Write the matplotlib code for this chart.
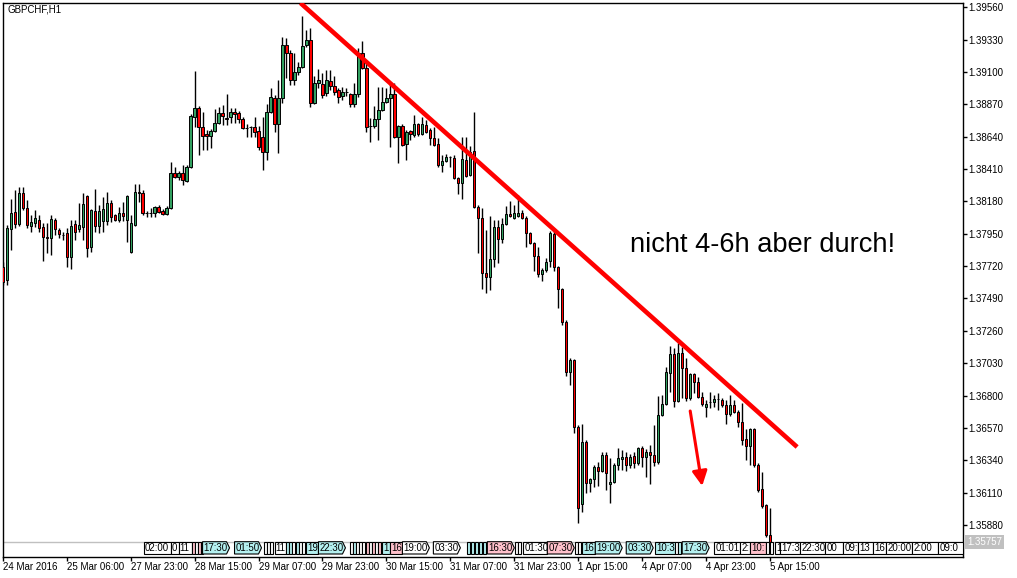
import numpy as np
import matplotlib
matplotlib.use('Agg')
import matplotlib.pyplot as plt
from matplotlib.patches import Polygon

plt.rcParams['font.family'] = ['Liberation Sans', 'DejaVu Sans']

# GBPCHF H1 candles, one per hour (first one is cut by the left edge)
OPEN = [1.37714, 1.37621, 1.37984, 1.38105, 1.38019, 1.38240, 1.38133, 1.38005, 1.38027, 1.38048,
        1.37998, 1.37927, 1.37920, 1.38048, 1.37977, 1.37941, 1.37955, 1.37785, 1.38019, 1.37984,
        1.37998, 1.38218, 1.37856, 1.38112, 1.38005, 1.38041, 1.38041, 1.38169, 1.38083, 1.38048,
        1.38098, 1.38048, 1.37820, 1.38012, 1.38247, 1.38240, 1.38098, 1.38098, 1.38098, 1.38140,
        1.38112, 1.38090, 1.38133, 1.38382, 1.38354, 1.38382, 1.38325, 1.38425, 1.38780, 1.38844,
        1.38709, 1.38659, 1.38645, 1.38681, 1.38737, 1.38809, 1.38773, 1.38780, 1.38816, 1.38809,
        1.38766, 1.38702, 1.38709, 1.38709, 1.38681, 1.38638, 1.38531, 1.38816, 1.38915, 1.38730,
        1.38915, 1.39292, 1.39235, 1.39043, 1.39100, 1.39136, 1.39292, 1.39328, 1.38880, 1.39022,
        1.39015, 1.38951, 1.39036, 1.39000, 1.38972, 1.38929, 1.38958, 1.38944, 1.38873, 1.38944,
        1.39235, 1.39129, 1.38716, 1.38716, 1.38766, 1.38830, 1.38887, 1.38915, 1.38944, 1.38638,
        1.38716, 1.38588, 1.38681, 1.38652, 1.38730, 1.38659, 1.38723, 1.38688, 1.38631, 1.38588,
        1.38439, 1.38467, 1.38496, 1.38489, 1.38346, 1.38311, 1.38474, 1.38368, 1.38538, 1.38140,
        1.38062, 1.37671, 1.37643, 1.37771, 1.37998, 1.37913, 1.38019, 1.38090, 1.38062, 1.38076,
        1.38098, 1.38062, 1.37955, 1.37884, 1.37792, 1.37664, 1.37692, 1.37756, 1.37948, 1.37714,
        1.37557, 1.37323, 1.36967, 1.37052, 1.36576, 1.36029, 1.36469, 1.36178, 1.36206, 1.36292,
        1.36263, 1.36377, 1.36171, 1.36185, 1.36306, 1.36349, 1.36363, 1.36306, 1.36370, 1.36320,
        1.36427, 1.36363, 1.36398, 1.36377, 1.36327, 1.36661, 1.36740, 1.36960, 1.37095, 1.36761,
        1.37102, 1.36995, 1.36782, 1.36953, 1.36896, 1.36789, 1.36718, 1.36754, 1.36754, 1.36775,
        1.36768, 1.36732, 1.36669, 1.36732, 1.36683, 1.36612, 1.36491, 1.36441, 1.36562, 1.36306,
        1.36135, 1.36021, 1.35808]
HIGH = [1.37749, 1.38012, 1.38197, 1.38261, 1.38282, 1.38282, 1.38190, 1.38083, 1.38119, 1.38083,
        1.38027, 1.38027, 1.38083, 1.38062, 1.37991, 1.37963, 1.37991, 1.38048, 1.38048, 1.38169,
        1.38240, 1.38226, 1.38126, 1.38268, 1.38154, 1.38211, 1.38247, 1.38190, 1.38090, 1.38140,
        1.38176, 1.38226, 1.38083, 1.38304, 1.38304, 1.38261, 1.38112, 1.38133, 1.38147, 1.38154,
        1.38126, 1.38147, 1.38460, 1.38425, 1.38396, 1.38439, 1.38439, 1.38801, 1.39107, 1.38858,
        1.38816, 1.38688, 1.38695, 1.38837, 1.38851, 1.38865, 1.38944, 1.38844, 1.38844, 1.38823,
        1.38780, 1.38730, 1.38716, 1.38780, 1.38716, 1.38780, 1.38873, 1.38986, 1.38937, 1.39043,
        1.39349, 1.39342, 1.39257, 1.39235, 1.39171, 1.39498, 1.39399, 1.39413, 1.39072, 1.39121,
        1.39093, 1.39114, 1.39114, 1.39072, 1.38986, 1.38993, 1.38986, 1.38951, 1.39022, 1.39271,
        1.39320, 1.39164, 1.38773, 1.38858, 1.38993, 1.38993, 1.38986, 1.39022, 1.39022, 1.38723,
        1.38730, 1.38688, 1.38688, 1.38794, 1.38737, 1.38780, 1.38759, 1.38702, 1.38709, 1.38631,
        1.38510, 1.38517, 1.38503, 1.38510, 1.38354, 1.38638, 1.38638, 1.38574, 1.38816, 1.38154,
        1.38133, 1.37977, 1.38076, 1.38048, 1.38048, 1.38062, 1.38147, 1.38183, 1.38154, 1.38226,
        1.38119, 1.38076, 1.37963, 1.37891, 1.37856, 1.37706, 1.37778, 1.37970, 1.37977, 1.37721,
        1.37564, 1.37337, 1.37067, 1.37059, 1.36590, 1.36597, 1.36484, 1.36213, 1.36306, 1.36327,
        1.36398, 1.36398, 1.36356, 1.36320, 1.36427, 1.36413, 1.36398, 1.36384, 1.36398, 1.36434,
        1.36441, 1.36420, 1.36448, 1.36590, 1.36796, 1.36804, 1.37003, 1.37152, 1.37138, 1.37173,
        1.37145, 1.37067, 1.36960, 1.36960, 1.36932, 1.36825, 1.36768, 1.36825, 1.36804, 1.36818,
        1.36782, 1.36768, 1.36804, 1.36768, 1.36697, 1.36747, 1.36562, 1.36569, 1.36569, 1.36320,
        1.36256, 1.36029, 1.36000]
LOW = [1.37586, 1.37586, 1.37835, 1.37991, 1.38005, 1.38119, 1.37991, 1.37963, 1.37998, 1.37963,
       1.37756, 1.37813, 1.37799, 1.37941, 1.37920, 1.37906, 1.37714, 1.37699, 1.37906, 1.37963,
       1.37906, 1.37785, 1.37820, 1.37963, 1.37955, 1.37963, 1.38012, 1.38034, 1.38041, 1.38034,
       1.38041, 1.37891, 1.37813, 1.38005, 1.38176, 1.38083, 1.38069, 1.38069, 1.38069, 1.38098,
       1.38083, 1.38083, 1.38126, 1.38346, 1.38332, 1.38297, 1.38318, 1.38417, 1.38709, 1.38510,
       1.38545, 1.38545, 1.38560, 1.38673, 1.38730, 1.38723, 1.38723, 1.38737, 1.38737, 1.38737,
       1.38695, 1.38638, 1.38638, 1.38638, 1.38545, 1.38403, 1.38474, 1.38809, 1.38673, 1.38524,
       1.38880, 1.39057, 1.39008, 1.39008, 1.39079, 1.39129, 1.39278, 1.38851, 1.38873, 1.38986,
       1.38915, 1.38929, 1.38972, 1.38937, 1.38880, 1.38901, 1.38929, 1.38851, 1.38851, 1.38922,
       1.39121, 1.38673, 1.38602, 1.38702, 1.38617, 1.38823, 1.38880, 1.38567, 1.38631, 1.38453,
       1.38574, 1.38474, 1.38617, 1.38638, 1.38645, 1.38652, 1.38666, 1.38581, 1.38574, 1.38425,
       1.38389, 1.38460, 1.38425, 1.38339, 1.38233, 1.38197, 1.38354, 1.38361, 1.38133, 1.37813,
       1.37557, 1.37529, 1.37550, 1.37714, 1.37742, 1.37884, 1.38012, 1.38069, 1.38055, 1.38069,
       1.38055, 1.37856, 1.37877, 1.37685, 1.37643, 1.37614, 1.37678, 1.37714, 1.37685, 1.37422,
       1.37301, 1.36939, 1.36875, 1.36533, 1.35894, 1.35972, 1.36107, 1.36114, 1.36149, 1.36157,
       1.36256, 1.36128, 1.36036, 1.36178, 1.36270, 1.36270, 1.36263, 1.36285, 1.36285, 1.36306,
       1.36292, 1.36221, 1.36171, 1.36299, 1.36313, 1.36654, 1.36732, 1.36825, 1.36718, 1.36754,
       1.36782, 1.36761, 1.36768, 1.36818, 1.36782, 1.36725, 1.36647, 1.36711, 1.36718, 1.36697,
       1.36718, 1.36597, 1.36654, 1.36676, 1.36576, 1.36448, 1.36341, 1.36306, 1.36292, 1.36114,
       1.36000, 1.35794, 1.35737]
CLOSE = [1.37607, 1.37991, 1.38098, 1.38019, 1.38240, 1.38133, 1.38012, 1.38034, 1.38062, 1.37991,
         1.37927, 1.37920, 1.38055, 1.37984, 1.37948, 1.37941, 1.37785, 1.38005, 1.37963, 1.38012,
         1.38162, 1.37849, 1.38119, 1.38005, 1.38112, 1.38126, 1.38169, 1.38069, 1.38048, 1.38098,
         1.38076, 1.38218, 1.38027, 1.38247, 1.38240, 1.38098, 1.38098, 1.38101, 1.38140, 1.38105,
         1.38090, 1.38133, 1.38382, 1.38354, 1.38382, 1.38332, 1.38425, 1.38787, 1.38844, 1.38709,
         1.38645, 1.38645, 1.38681, 1.38737, 1.38809, 1.38787, 1.38766, 1.38816, 1.38801, 1.38766,
         1.38702, 1.38699, 1.38712, 1.38673, 1.38567, 1.38531, 1.38816, 1.38922, 1.38730, 1.38915,
         1.39292, 1.39235, 1.39043, 1.39100, 1.39136, 1.39285, 1.39328, 1.38880, 1.39022, 1.39043,
         1.38937, 1.39043, 1.39000, 1.38958, 1.38922, 1.38958, 1.38961, 1.38873, 1.38944, 1.39235,
         1.39129, 1.38709, 1.38713, 1.38766, 1.38830, 1.38887, 1.38915, 1.38944, 1.38638, 1.38716,
         1.38581, 1.38673, 1.38659, 1.38730, 1.38659, 1.38730, 1.38673, 1.38631, 1.38581, 1.38439,
         1.38467, 1.38496, 1.38499, 1.38346, 1.38311, 1.38481, 1.38361, 1.38531, 1.38140, 1.38062,
         1.37671, 1.37643, 1.37771, 1.37998, 1.37913, 1.38019, 1.38090, 1.38076, 1.38098, 1.38098,
         1.38062, 1.37955, 1.37884, 1.37792, 1.37664, 1.37692, 1.37749, 1.37955, 1.37714, 1.37557,
         1.37323, 1.36967, 1.37052, 1.36576, 1.36000, 1.36469, 1.36178, 1.36206, 1.36292, 1.36263,
         1.36377, 1.36249, 1.36185, 1.36306, 1.36356, 1.36363, 1.36306, 1.36363, 1.36320, 1.36427,
         1.36363, 1.36398, 1.36377, 1.36327, 1.36661, 1.36740, 1.36967, 1.37095, 1.36761, 1.37102,
         1.36995, 1.36782, 1.36953, 1.36896, 1.36789, 1.36740, 1.36740, 1.36757, 1.36775, 1.36772,
         1.36732, 1.36669, 1.36732, 1.36683, 1.36612, 1.36484, 1.36441, 1.36562, 1.36306, 1.36128,
         1.36014, 1.35808, 1.35757]

TIME_LABELS = ['24 Mar 2016', '25 Mar 06:00', '27 Mar 23:00', '28 Mar 15:00', '29 Mar 07:00',
               '29 Mar 23:00', '30 Mar 15:00', '31 Mar 07:00', '31 Mar 23:00', '1 Apr 15:00',
               '4 Apr 07:00', '4 Apr 23:00', '5 Apr 15:00']
PRICE_TICKS = [1.39560, 1.39330, 1.39100, 1.38870, 1.38640, 1.38410, 1.38180, 1.37950, 1.37720,
               1.37490, 1.37260, 1.37030, 1.36800, 1.36570, 1.36340, 1.36110, 1.35880]

# hand-drawn objects (bar index, price)
TREND_LINE = [(74.5, 1.39591), (198.75, 1.36434)]
ARROW = [(172, 1.36690), (175, 1.36157)]
NOTE = 'nicht 4-6h aber durch!'

# calendar events strip: (bar index, visible label, fill)
EVENTS = [(35.25, '02:00', 'w'), (42, '0', 'w'), (44, '11', 'w'), (47.25, '', 'p'), (48, '', 'w'),
          (48.75, '', 'p'), (49.5, '', 'w'), (50, '17:30', 'c'), (58, '01:50', 'c'), (65.25, '', 'w'),
          (66, '', 'w'), (66.75, '', 'w'), (68, '11', 'w'), (71, '', 'c'), (71.75, '', 'c'),
          (72.5, '', 'w'), (73.5, '', 'c'), (74.25, '', 'w'), (75, '', 'w'), (76, '19', 'c'),
          (79, '22:30', 'c'), (87, '', 'w'), (87.75, '', 'c'), (88.5, '', 'w'), (89.25, '', 'w'),
          (90, '', 'w'), (91, '', 'p'), (91.75, '', 'w'), (92.5, '', 'p'), (93.25, '', 'w'),
          (94, '', 'p'), (95, '1', 'c'), (97, '16', 'p'), (100, '19:00', 'w'), (107.75, '03:30', 'w'),
          (116.25, '', 'c'), (117.25, '', 'c'), (118.25, '', 'c'), (119.25, '', 'c'), (120.25, '', 'c'),
          (121.25, '16:30', 'p'), (128.25, '', 'w'), (129, '', 'w'), (130.25, '01:30', 'w'),
          (136.25, '07:30', 'p'), (143.25, '', 'w'), (144, '', 'w'), (145, '16', 'c'),
          (148.25, '19:00', 'c'), (156, '03:30', 'c'), (163.25, '10:3', 'c'), (168.25, '', 'w'),
          (169, '', 'c'), (170, '17:30', 'c'), (178, '01:01', 'w'), (184.5, '2:', 'w'),
          (187, '10:', 'p'), (191, '', 'w'), (192, '', 'w'), (193.25, '1', 'w'), (194.5, '17:3', 'w'),
          (199.5, '22:30', 'w'), (205.75, '00', 'w'), (210.25, '09:', 'w'), (214, '13', 'w'),
          (217.75, '16', 'w'), (221, '20:00', 'w'), (227.5, '2:00', 'w'), (234, '09:0', 'w')]
FILLS = {'w': 'white', 'c': '#b4f0f0', 'p': '#ffc0cb'}

GREEN = '#32a060'
RED = '#ff0000'

W, H = 1017, 578
fig = plt.figure(figsize=(W / 100, H / 100), dpi=100)
ax = fig.add_axes([2.7 / W, 1 - 556.7 / H, (963 - 2.7) / W, (556.7 - 2.7) / H])

o = np.array(OPEN)
h = np.array(HIGH)
l = np.array(LOW)
c = np.array(CLOSE)
x = np.arange(len(o))

# bid line
ax.axhline(c[-1], color='#c0c0c0', lw=1, zorder=1)

colors = np.where(c >= o, GREEN, RED)
ax.vlines(x, l, h, color='black', lw=1, zorder=2)
ax.bar(x, np.maximum(np.abs(c - o), 0.00002), bottom=np.minimum(o, c), width=0.55,
       color=colors, edgecolor='black', linewidth=0.7, zorder=3)

(tx0, ty0), (tx1, ty1) = TREND_LINE
ax.plot([tx0, tx1], [ty0, ty1], color='red', lw=3.3, solid_capstyle='butt', zorder=5)
ax.annotate('', xy=ARROW[1], xytext=ARROW[0],
            arrowprops=dict(arrowstyle='-|>,head_length=0.55,head_width=0.28', color='red',
                            lw=2.2, mutation_scale=16, shrinkA=0, shrinkB=0), zorder=5)

XMAX = 240.25
ax.set_xlim(0.175, XMAX)
ax.set_ylim(1.35654, 1.39593)

# events strip
trans = ax.get_xaxis_transform()
y0, y1 = 2.7 / 554, 15.0 / 554
ym = (y0 + y1) / 2
for j, (start, lab, fc) in enumerate(EVENTS):
    nxt = EVENTS[j + 1][0] if j + 1 < len(EVENTS) else XMAX
    nat = 6.75 if lab else 0.75
    end = min(start + nat, nxt)
    if lab and start + nat < nxt - 0.01:
        pts = [(start, y0), (end - 0.75, y0), (end, ym), (end - 0.75, y1), (start, y1)]
    else:
        pts = [(start, y0), (end, y0), (end, y1), (start, y1)]
    patch = Polygon(pts, closed=True, transform=trans, facecolor=FILLS[fc],
                    edgecolor='black', lw=0.8, zorder=6, clip_on=False)
    ax.add_patch(patch)
    if lab:
        t = ax.text(start + 0.3, ym, lab, transform=trans, fontsize=7, va='center',
                    ha='left', zorder=7)
        t.set_clip_path(patch)

# price tag of last close
ax.text(1.0045, c[-1], f'{c[-1]:.5f}', transform=ax.get_yaxis_transform(), color='white',
        fontsize=7, va='center', ha='left', clip_on=False,
        bbox=dict(boxstyle='square,pad=0.2', fc='#c0c0c0', ec='none'))

ax.yaxis.tick_right()
ax.set_yticks(PRICE_TICKS)
ax.set_yticklabels([f'{v:.5f}' for v in PRICE_TICKS])
ax.set_xticks(np.arange(0, 16 * len(TIME_LABELS), 16))
ax.set_xticklabels(TIME_LABELS, ha='left')
ax.tick_params(axis='both', direction='out', length=3, width=1, labelsize=7, pad=1, color='black')
for s in ax.spines.values():
    s.set_linewidth(1)
    s.set_color('black')

fig.text(7 / W, 1 - 10 / H, 'GBPCHF,H1', fontsize=7, va='center', ha='left')
fig.text(630 / W, 1 - 252 / H, NOTE, fontsize=19.6, va='baseline', ha='left')

fig.savefig('out.png', dpi=100)
